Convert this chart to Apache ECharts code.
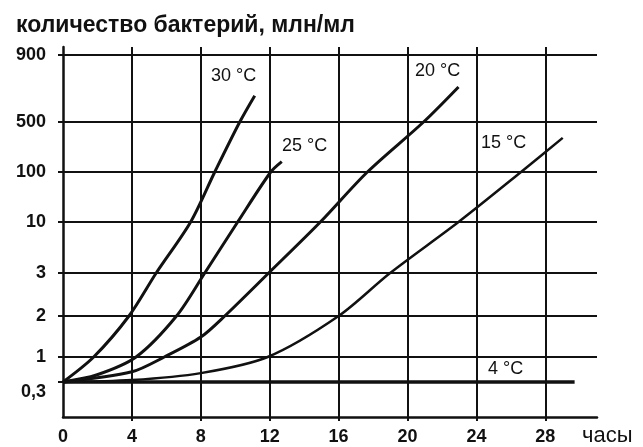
<!DOCTYPE html>
<html>
<head>
<meta charset="utf-8">
<script src="https://cdn.jsdelivr.net/npm/echarts@6/dist/echarts.min.js"></script>
<style>
html,body{margin:0;padding:0;background:#fff;}
#chart{width:643px;height:447px;}
</style>
</head>
<body>
<div id="chart"></div>
<script>
// ---- data ----
const hourTicks = [0, 4, 8, 12, 16, 20, 24, 28];
const yTickValues = [0.3, 1, 2, 3, 10, 100, 500, 900];
const yTickLabels = ['0,3', '1', '2', '3', '10', '100', '500', '900'];
const seriesNames = ['30 °C', '25 °C', '20 °C', '15 °C', '4 °C'];
// [hours, bacteria (mln/ml)]
const curve30 = [[0, 0.3], [1.78, 1], [3.83, 2], [5.41, 3], [7.41, 10], [8.81, 100], [10.26, 500], [11.13, 630]];
const curve25 = [[0, 0.3], [1.94, 0.42], [4.24, 1], [6.59, 2], [8.23, 3], [10.14, 10], [12.06, 100], [12.7, 140]];
const curve20 = [[0, 0.3], [4, 0.49], [5.88, 1], [8, 1.4], [9.39, 2], [11.94, 3], [14.94, 10], [17.67, 100], [20.93, 500], [22.96, 680]];
const curve15 = [[0, 0.3], [4, 0.33], [8, 0.46], [11.88, 1], [16, 2], [18.99, 3], [22.96, 10], [26.59, 100], [29.01, 300]];
const curve4 = [[0, 0.3], [29.7, 0.3]];

// ---- non-uniform axis definition (the printed scale is irregular) ----
const axisStops = [35, 60, 101, 144, 195, 245, 295, 362];
function toLevel(v) {
  if (v <= yTickValues[0]) return axisStops[0];
  for (let i = 0; i < yTickValues.length - 1; i++) {
    const a = yTickValues[i], b = yTickValues[i + 1];
    if (v <= b || i === yTickValues.length - 2) {
      const f = (Math.log(v) - Math.log(a)) / (Math.log(b) - Math.log(a));
      return axisStops[i] + f * (axisStops[i + 1] - axisStops[i]);
    }
  }
}
const levelLabel = {};
yTickValues.forEach((v, i) => { levelLabel[toLevel(v).toFixed(3)] = yTickLabels[i]; });

const ink = '#111';
const FF = '"Liberation Sans", Arial, sans-serif';
const chart = echarts.init(document.getElementById('chart'));

function curve(name, data, width) {
  return {
    name: name, type: 'line', data: data.map(p => [p[0], toLevel(p[1])]),
    smooth: 0.3, showSymbol: false, symbol: 'none',
    lineStyle: { color: ink, width: width }, silent: true, animation: false, z: 5
  };
}

chart.setOption({
  animation: false,
  title: {
    text: 'количество бактерий, млн/мл', left: 11, top: 9,
    textStyle: { fontFamily: FF, fontSize: 23, fontWeight: 'bold', color: ink }
  },
  grid: { left: 63, right: 46, top: 47, bottom: 30 },
  xAxis: {
    type: 'value', min: 0, max: 31,
    axisLine: { show: true, lineStyle: { color: ink, width: 2.5 } },
    axisTick: { show: true, customValues: hourTicks.slice(1), length: 4, lineStyle: { color: ink, width: 2 } },
    splitLine: { show: false },
    axisLabel: {
      customValues: hourTicks, margin: 11,
      fontFamily: FF, fontSize: 18, fontWeight: 'bold', color: ink
    }
  },
  yAxis: {
    type: 'value', min: 0, max: 370,
    axisLine: { show: true, lineStyle: { color: ink, width: 2.5 } },
    axisTick: { show: true, customValues: yTickValues.map(toLevel), length: 5, lineStyle: { color: ink, width: 2 } },
    splitLine: { show: false },
    axisLabel: {
      customValues: yTickValues.map(toLevel), margin: 17,
      fontFamily: FF, fontSize: 18, fontWeight: 'bold', color: ink,
      formatter: function (val) {
        const t = levelLabel[val.toFixed(3)] || '';
        return t === '0,3' ? '{low|' + t + '}' : t;
      },
      rich: { low: { padding: [20, 0, 0, 0], fontFamily: FF, fontSize: 18, fontWeight: 'bold', color: ink } }
    }
  },
  series: [
    {
      name: 'grid', type: 'line', data: [], silent: true, animation: false,
      markLine: {
        silent: true, symbol: ['none', 'none'], animation: false,
        label: { show: false },
        lineStyle: { color: ink, width: 2, type: 'solid' },
        data: hourTicks.slice(1).map(h => ({ xAxis: h }))
          .concat(yTickValues.slice(1).map(v => ({ yAxis: toLevel(v) })))
      }
    },
    curve(seriesNames[0], curve30, 3),
    curve(seriesNames[1], curve25, 3),
    curve(seriesNames[2], curve20, 3),
    curve(seriesNames[3], curve15, 2.5),
    curve(seriesNames[4], curve4, 3.5)
  ],
  graphic: [
    { type: 'text', left: 582, top: 425, style: { text: 'часы', font: '22px ' + FF, fill: ink } },
    { type: 'text', left: 211, top: 67, style: { text: seriesNames[0], font: '18px ' + FF, fill: ink } },
    { type: 'text', left: 282, top: 137, style: { text: seriesNames[1], font: '18px ' + FF, fill: ink } },
    { type: 'text', left: 415, top: 62, style: { text: seriesNames[2], font: '18px ' + FF, fill: ink } },
    { type: 'text', left: 481, top: 134, style: { text: seriesNames[3], font: '18px ' + FF, fill: ink } },
    { type: 'text', left: 488, top: 360, style: { text: seriesNames[4], font: '18px ' + FF, fill: ink } }
  ]
});
</script>
</body>
</html>
